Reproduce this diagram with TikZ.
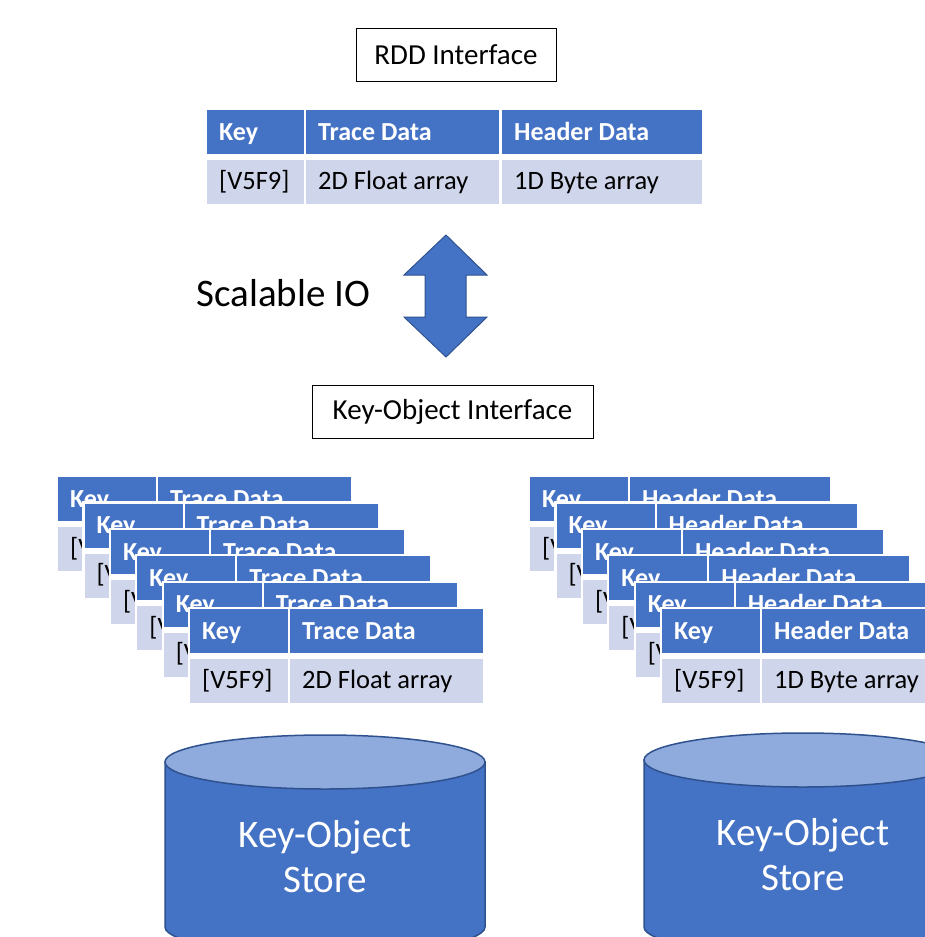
\documentclass[tikz,border=0pt]{standalone}
\usepackage{fontspec}
\setmainfont{Carlito}
\definecolor{hblue}{HTML}{4472C4}
\definecolor{rowbg}{HTML}{CFD5EA}
\definecolor{topblue}{HTML}{8FAADC}
\definecolor{edgeblue}{HTML}{2F528F}
\tikzset{
  hcell/.style={fill=hblue, text=white, font=\fontsize{26}{30}\selectfont\bfseries, anchor=north west, minimum height=44pt, inner xsep=12pt, inner ysep=0pt, align=flush left, text height=20pt, text depth=4pt},
  dcell/.style={fill=rowbg, text=black, font=\fontsize{26.5}{30}\selectfont, anchor=north west, minimum height=44pt, inner xsep=12pt, inner ysep=0pt, align=flush left, text height=19pt, text depth=5pt},
  iface/.style={draw=black, line width=1pt, fill=white, font=\fontsize{29}{34}\selectfont, minimum height=53pt, inner sep=0pt},
  bigtext/.style={font=\fontsize{39}{45}\selectfont, align=center},
  cylbody/.style={fill=hblue, draw=edgeblue, line width=1.5pt},
  cyltop/.style={fill=topblue, draw=edgeblue, line width=1.5pt},
}
% \kvtab{prefix}{x}{y}{w2}{header}{data}
\newcommand\kvtab[6]{%
  \fill[white] (#2-2,#3-2) rectangle (#2+100+#4+2,#3+96);
  \node[hcell, text width=74pt] (#1k) at (#2,#3) {Key};
  \node[hcell, text width=#4pt-24pt] (#1h) at (#2+100,#3) {#5};
  \node[dcell, text width=74pt] (#1kd) at (#2,#3+50) {[V5F9]};
  \node[dcell, text width=#4pt-24pt] (#1hd) at (#2+100,#3+50) {#6};
}
\begin{document}
\begin{tikzpicture}[x=1pt,y=-1pt]
\useasboundingbox (0,0) rectangle (925,937);
\clip (0,0) rectangle (925,937);
\fill[white] (0,0) rectangle (925,937);

% RDD interface
\node[iface, minimum width=200pt] (rdd) at (456,55) {RDD Interface};

% top table
\node[hcell, text width=73pt] (tk) at (207,110) {Key};
\node[hcell, text width=169pt] (tt) at (306,110) {Trace Data};
\node[hcell, text width=176pt] (th) at (502,110) {Header Data};
\node[dcell, text width=73pt] (tkd) at (207,160) {[V5F9]};
\node[dcell, text width=169pt] (ttd) at (306,160) {2D Float array};
\node[dcell, text width=176pt] (thd) at (502,160) {1D Byte array};

% Scalable IO
\node[bigtext, anchor=west] (sio) at (193,293) {Scalable IO};
\fill[hblue, draw=edgeblue, line width=1pt]
  (446,235) -- (487,275) -- (466,275) -- (466,317) -- (487,317) -- (446,357)
  -- (404,317) -- (425,317) -- (425,275) -- (404,275) -- cycle;

% Key-Object interface
\node[iface, minimum width=281pt] (koi) at (452.5,412) {Key-Object Interface};

% stacks
\foreach \i in {0,...,5}{
  \pgfmathsetmacro\lx{58+26.4*\i}
  \pgfmathsetmacro\ly{477+26.4*\i}
  \kvtab{L\i}{\lx}{\ly}{193}{Trace Data}{2D Float array}
}
\foreach \i in {0,...,5}{
  \pgfmathsetmacro\rx{530+26.4*\i}
  \pgfmathsetmacro\ry{477+26.4*\i}
  \kvtab{R\i}{\rx}{\ry}{200}{Header Data}{1D Byte array}
}

% cylinders
\path[cylbody] (165,762) -- (165,927) arc[start angle=180, end angle=360, x radius=160pt, y radius=27pt] -- (485,762) -- cycle;
\path[cyltop] (325,762) ellipse [x radius=160pt, y radius=27pt];
\node[bigtext, text=white] (s1) at (325,857) {Key-Object\\Store};

\path[cylbody] (644,760) -- (644,927) arc[start angle=180, end angle=360, x radius=159pt, y radius=27pt] -- (962,760) -- cycle;
\path[cyltop] (803,760) ellipse [x radius=159pt, y radius=27pt];
\node[bigtext, text=white] (s2) at (803,855) {Key-Object\\Store};
\end{tikzpicture}
\end{document}
